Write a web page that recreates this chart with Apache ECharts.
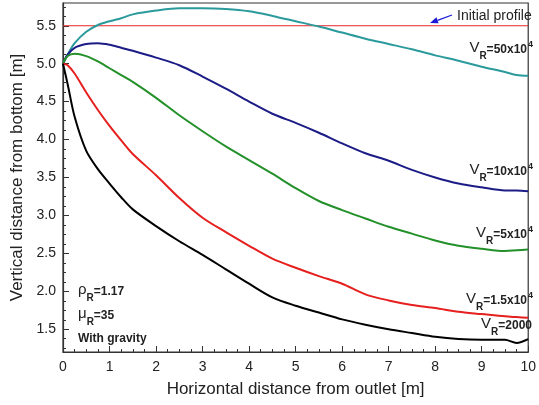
<!DOCTYPE html>
<html>
<head>
<meta charset="utf-8">
<script src="https://cdn.jsdelivr.net/npm/echarts@6/dist/echarts.min.js"></script>
<style>
  html, body { margin: 0; padding: 0; background: #fff; }
  #chart { width: 539px; height: 405px; }
</style>
</head>
<body>
<div id="chart"></div>
<script>
// horizontal positions [m]
var xs = [0, 0.1, 0.25, 0.5, 0.75, 1, 1.25, 1.5, 2, 2.5, 3, 3.5, 4, 4.5, 5, 5.5, 6, 6.5, 7, 7.5, 8, 8.5, 9, 9.5, 9.75, 10];

// vertical position of the jet per velocity ratio [m]
var vr50e4 = [5.0, 5.12, 5.27, 5.42, 5.51, 5.56, 5.60, 5.65, 5.70, 5.73, 5.73, 5.72, 5.69, 5.63, 5.56, 5.49, 5.41, 5.33, 5.26, 5.19, 5.11, 5.04, 4.96, 4.89, 4.85, 4.84];
var vr10e4 = [5.0, 5.12, 5.21, 5.26, 5.27, 5.25, 5.21, 5.17, 5.08, 4.98, 4.83, 4.67, 4.50, 4.34, 4.22, 4.09, 3.95, 3.82, 3.72, 3.60, 3.50, 3.42, 3.37, 3.33, 3.33, 3.32];
var vr5e4  = [5.0, 5.10, 5.13, 5.10, 5.03, 4.94, 4.85, 4.76, 4.55, 4.32, 4.11, 3.91, 3.73, 3.55, 3.36, 3.19, 3.07, 2.96, 2.85, 2.76, 2.67, 2.60, 2.56, 2.53, 2.54, 2.55];
var vr15e3 = [5.0, 4.98, 4.87, 4.62, 4.39, 4.18, 3.99, 3.81, 3.53, 3.23, 2.97, 2.78, 2.60, 2.43, 2.31, 2.20, 2.10, 1.96, 1.88, 1.82, 1.78, 1.73, 1.70, 1.67, 1.66, 1.65];
var vr2000 = [5.0, 4.73, 4.30, 3.85, 3.61, 3.42, 3.24, 3.08, 2.86, 2.66, 2.48, 2.29, 2.10, 1.92, 1.81, 1.72, 1.63, 1.56, 1.50, 1.45, 1.40, 1.37, 1.36, 1.36, 1.32, 1.37];

var initialX = [0, 10];
var initialY = [5.5, 5.5];

var yMajorTicks = [1.5, 2.0, 2.5, 3.0, 3.5, 4.0, 4.5, 5.0, 5.5];

function pairs(x, y) {
  var out = [];
  for (var i = 0; i < x.length; i++) {
    out.push([x[i], y[i]]);
  }
  return out;
}

// minor y ticks every 0.125
var yMinorTicks = [];
for (var v = 1.25; v < 5.8; v += 0.125) {
  yMinorTicks.push(Math.round(v * 1000) / 1000);
}

var FONT = '"Liberation Sans", Arial, sans-serif';
var TXT = '#222';

function curve(name, color, y) {
  return {
    name: name,
    type: 'line',
    data: pairs(xs, y),
    showSymbol: false,
    smooth: 0.3,
    lineStyle: { color: color, width: 2 },
    itemStyle: { color: color },
    silent: true
  };
}

// rich styles for V_R labels: main letter, subscript, bold value, superscript
var vrRich = {
  v: { fontSize: 15, fontFamily: FONT, fill: TXT, verticalAlign: 'middle', lineHeight: 15 },
  s: { fontSize: 10, fontFamily: FONT, fontWeight: 'bold', fill: TXT, verticalAlign: 'middle', lineHeight: 10, padding: [16, 0, 0, 0] },
  b: { fontSize: 12, fontFamily: FONT, fontWeight: 'bold', fill: TXT, verticalAlign: 'middle', lineHeight: 12, padding: [3, 0, 0, 0] },
  p: { fontSize: 9, fontFamily: FONT, fontWeight: 'bold', fill: TXT, verticalAlign: 'middle', lineHeight: 9, padding: [0, 0, 7, 1] }
};

function vrLabel(text, x, y, align) {
  return {
    type: 'text',
    x: x,
    y: y,
    silent: true,
    style: {
      text: text,
      rich: vrRich,
      align: align || 'right',
      verticalAlign: 'middle'
    }
  };
}

var chart = echarts.init(document.getElementById('chart'));
chart.setOption({
  animation: false,
  backgroundColor: '#fff',
  grid: {
    left: 63, right: 6, top: 3, bottom: 53,
    show: true, borderColor: '#333', borderWidth: 1.2, backgroundColor: 'transparent'
  },
  xAxis: {
    type: 'value',
    min: 0, max: 10, interval: 1,
    name: 'Horizontal distance from outlet [m]',
    nameLocation: 'middle',
    nameGap: 29,
    nameTextStyle: { fontSize: 17, fontFamily: FONT, color: TXT },
    axisLine: { lineStyle: { color: '#333', width: 1.2 } },
    axisTick: { inside: true, length: 6, lineStyle: { color: '#333' } },
    minorTick: { show: true, splitNumber: 4, length: 3, lineStyle: { color: '#333' } },
    axisLabel: { fontSize: 14, fontFamily: FONT, color: TXT, margin: 8 },
    splitLine: { show: false }
  },
  yAxis: [{
    type: 'value',
    min: 1.2, max: 5.8,
    name: 'Vertical distance from bottom [m]',
    nameLocation: 'middle',
    nameGap: 37,
    nameTextStyle: { fontSize: 17, fontFamily: FONT, color: TXT },
    axisLine: { show: true, lineStyle: { color: '#333', width: 1.2 } },
    axisTick: { inside: true, length: 6, customValues: yMajorTicks, lineStyle: { color: '#333' } },
    axisLabel: {
      fontSize: 14, fontFamily: FONT, color: TXT, margin: 7,
      customValues: yMajorTicks,
      formatter: function (val) { return val.toFixed(1); }
    },
    splitLine: { show: false }
  }, {
    type: 'value',
    min: 1.2, max: 5.8,
    position: 'left',
    axisLine: { show: false },
    axisTick: { inside: true, length: 3, customValues: yMinorTicks, lineStyle: { color: '#333' } },
    axisLabel: { show: false },
    splitLine: { show: false }
  }],
  series: [
    {
      name: 'Initial profile',
      type: 'line',
      data: pairs(initialX, initialY),
      showSymbol: false,
      lineStyle: { color: '#e8252a', width: 1 },
      silent: true
    },
    curve('VR=50x10^4', '#2b9a9c', vr50e4),
    curve('VR=10x10^4', '#1c1c86', vr10e4),
    curve('VR=5x10^4', '#23902a', vr5e4),
    curve('VR=1.5x10^4', '#e5201e', vr15e3),
    curve('VR=2000', '#000000', vr2000)
  ],
  graphic: [
    {
      type: 'text', x: 457, y: 16, silent: true,
      style: { text: 'Initial profile', fontSize: 14, fontFamily: FONT, fill: TXT, verticalAlign: 'middle' }
    },
    {
      type: 'line', silent: true,
      shape: { x1: 452, y1: 15, x2: 437.5, y2: 20.3 },
      style: { stroke: '#1a1ad8', lineWidth: 1.3 }
    },
    {
      type: 'polygon', silent: true,
      shape: { points: [[430, 23], [438.6, 23.2], [436.4, 17.3]] },
      style: { fill: '#1a1ad8' }
    },
    vrLabel('{v|V}{s|R}{b|=50x10}{p|4}', 533, 48),
    vrLabel('{v|V}{s|R}{b|=10x10}{p|4}', 533, 170),
    vrLabel('{v|V}{s|R}{b|=5x10}{p|4}', 533, 233),
    vrLabel('{v|V}{s|R}{b|=1.5x10}{p|4}', 533, 299),
    vrLabel('{v|V}{s|R}{b|=2000}', 532, 324),
    vrLabel('{v|ρ}{s|R}{b|=1.17}', 78, 290, 'left'),
    vrLabel('{v|μ}{s|R}{b|=35}', 78, 314, 'left'),
    {
      type: 'text', x: 78, y: 339, silent: true,
      style: { text: 'With gravity', fontSize: 12, fontWeight: 'bold', fontFamily: FONT, fill: TXT, verticalAlign: 'middle' }
    }
  ]
});
</script>
</body>
</html>
